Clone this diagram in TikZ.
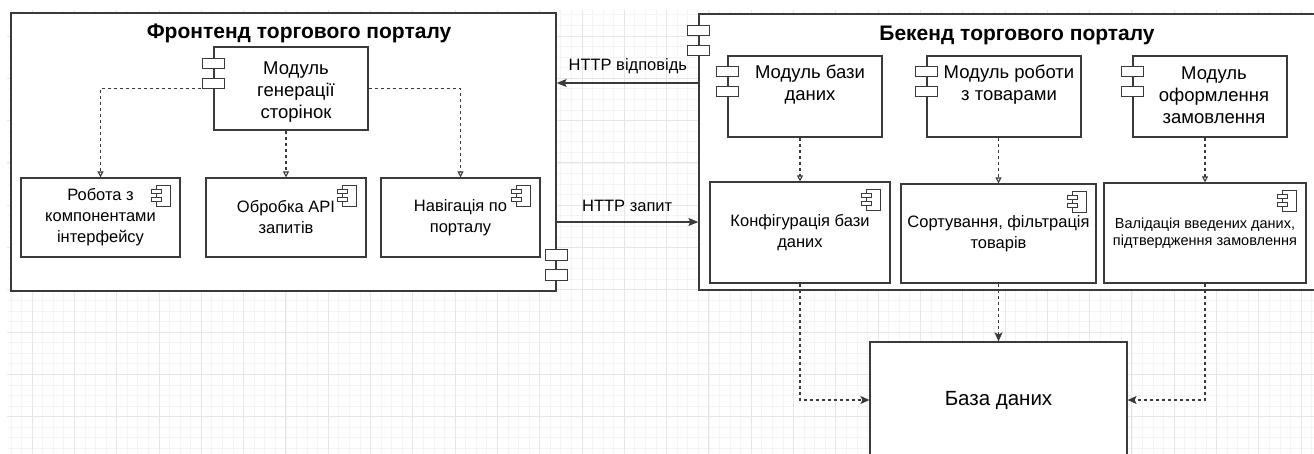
\documentclass[tikz,border=0pt]{standalone}
\usepackage{fontspec}
\setmainfont{Liberation Sans}
\usetikzlibrary{arrows.meta, positioning, calc}
\definecolor{gridminor}{HTML}{F4F4F4}
\definecolor{gridmajor}{HTML}{E6E6E6}
\definecolor{edgegray}{HTML}{3A3A3A}

\begin{document}
\begin{tikzpicture}[x=1pt, y=-1pt,
    container/.style={draw=edgegray, line width=1.3pt, fill=white, inner sep=0pt},
    modbox/.style={draw=edgegray, line width=1.2pt, fill=white, inner sep=0pt},
    txt/.style={align=center, inner sep=0pt, font=\fontsize{16.5}{21}\selectfont},
    modtxt/.style={align=center, inner sep=0pt, font=\fontsize{18.5}{22}\selectfont},
    heading/.style={inner sep=0pt, font=\fontsize{21}{25}\selectfont\bfseries},
    tab/.style={draw=edgegray, line width=1pt, fill=white},
    dep/.style={dash pattern=on 3pt off 3pt, line width=1.1pt, draw=edgegray, -{Triangle[open, length=6pt, width=6pt]}},
    dbdep/.style={dash pattern=on 3pt off 3pt, line width=1.1pt, draw=edgegray, -{Stealth[length=9pt, width=8pt, inset=2pt]}},
    http/.style={line width=1.1pt, draw=edgegray, -{Stealth[length=10pt, width=8pt, inset=2pt]}},
    tabs/.pic={
        \draw[tab] (-11,12) rectangle (11,22.5);
        \draw[tab] (-11,32) rectangle (11,42.5);
    },
    compicon/.pic={
        \draw[tab] (-24,8) rectangle (-10,29);
        \draw[tab] (-29,12) rectangle (-19,16.5);
        \draw[tab] (-29,20) rectangle (-19,24.5);
    }]
    \useasboundingbox (0,0) rectangle (1314,453);
    % background grid
    \begin{scope}
        \clip (7,10) rectangle (1314,453);
        \foreach \i in {0,...,126}
            \draw[gridminor, line width=0.6pt] ({-10.3+\i*10.575},0) -- ++(0,460);
        \foreach \i in {0,...,45}
            \draw[gridminor, line width=0.6pt] (0,{-6.4+\i*10.575}) -- ++(1320,0);
        \foreach \i in {0,...,32}
            \draw[gridmajor, line width=0.7pt] ({-10.3+\i*42.3},0) -- ++(0,460);
        \foreach \i in {0,...,11}
            \draw[gridmajor, line width=0.7pt] (0,{-6.4+\i*42.3}) -- ++(1320,0);
    \end{scope}

    % frontend
    \node[container, minimum width=545, minimum height=278] (front) at (283.5,152) {};
    \pic at ($(front.south east)+(0,-54)$) {tabs};
    \node[heading] (fronttitle) at (299,33) {Фронтенд торгового порталу};
    \node[modbox, minimum width=154, minimum height=83] (pagegen) at (291,88.5) {};
    \pic at (pagegen.north west) {tabs};
    \node[modtxt] (pagegentxt) at (296,92) {Модуль\\генерації\\сторінок};
    \node[modbox, txt, minimum width=159, minimum height=79] (ui) at (100.5,217.5) {Робота з\\компонентами\\інтерфейсу};
    \node[modbox, txt, minimum width=160, minimum height=79] (api) at (286,217.5) {Обробка API\\запитів};
    \node[modbox, txt, minimum width=159, minimum height=79] (nav) at (460.5,217.5) {Навігація по\\порталу};
    \foreach \n in {ui, api, nav}
        \pic at (\n.north east) {compicon};
    \draw[dep] (pagegen.west) -| (ui.north);
    \draw[dep] (pagegen.south -| api.north) -- (api.north);
    \draw[dep] (pagegen.east) -| (nav.north);

    % backend
    \node[container, minimum width=621, minimum height=276] (back) at (1009.5,152) {};
    \pic at (back.north west) {tabs};
    \node[heading] (backtitle) at (1017,35) {Бекенд торгового порталу};
    \node[modbox, minimum width=154, minimum height=81] (dbmod) at (805,96.5) {};
    \node[modbox, minimum width=154, minimum height=81] (goodsmod) at (1004,96.5) {};
    \node[modbox, minimum width=154, minimum height=81] (ordermod) at (1210,96.5) {};
    \foreach \n in {dbmod, goodsmod, ordermod}
        \pic at ([yshift=1pt]\n.north west) {tabs};
    \node[modtxt] (dbmodtxt) at (810,85) {Модуль бази\\даних};
    \node[modtxt] (goodsmodtxt) at (1009,85) {Модуль роботи\\з товарами};
    \node[modtxt] (ordermodtxt) at (1214,95.5) {Модуль\\оформлення\\замовлення};
    \node[modbox, txt, minimum width=180, minimum height=101] (dbconf) at (800,232.5) {Конфігурація бази\\даних};
    \node[modbox, txt, minimum width=195, minimum height=99] (sortf) at (998.5,233.5) {Сортування, фільтрація\\товарів};
    \node[modbox, txt, font=\fontsize{14.5}{16.5}\selectfont, minimum width=202, minimum height=100] (valid) at (1205,233) {Валідація введених даних,\\підтвердження замовлення};
    \foreach \n in {dbconf, sortf, valid}
        \pic at (\n.north east) {compicon};
    \draw[dep] (dbmod.south -| dbconf.north) -- (dbconf.north);
    \draw[dep] (goodsmod.south -| sortf.north) -- (sortf.north);
    \draw[dep] (ordermod.south -| valid.north) -- (valid.north);

    % database
    \node[modbox, minimum width=257, minimum height=116, font=\fontsize{20.5}{24}\selectfont] (db) at (998.5,400) {\raisebox{-3pt}{База даних}};
    \draw[dbdep] (dbconf.south) |- (db.west);
    \draw[dbdep] (sortf.south) -- (db.north);
    \draw[dbdep] (valid.south) |- (db.east);

    % http
    \coordinate (resp) at (699,83);
    \coordinate (req) at (556,222);
    \draw[http] (resp) -- (resp -| front.east) node[txt, midway, above=9pt] (resplbl) {HTTP відповідь};
    \draw[http] (req) -- (req -| back.west) node[txt, midway, above=10pt] (reqlbl) {HTTP запит};
\end{tikzpicture}
\end{document}
